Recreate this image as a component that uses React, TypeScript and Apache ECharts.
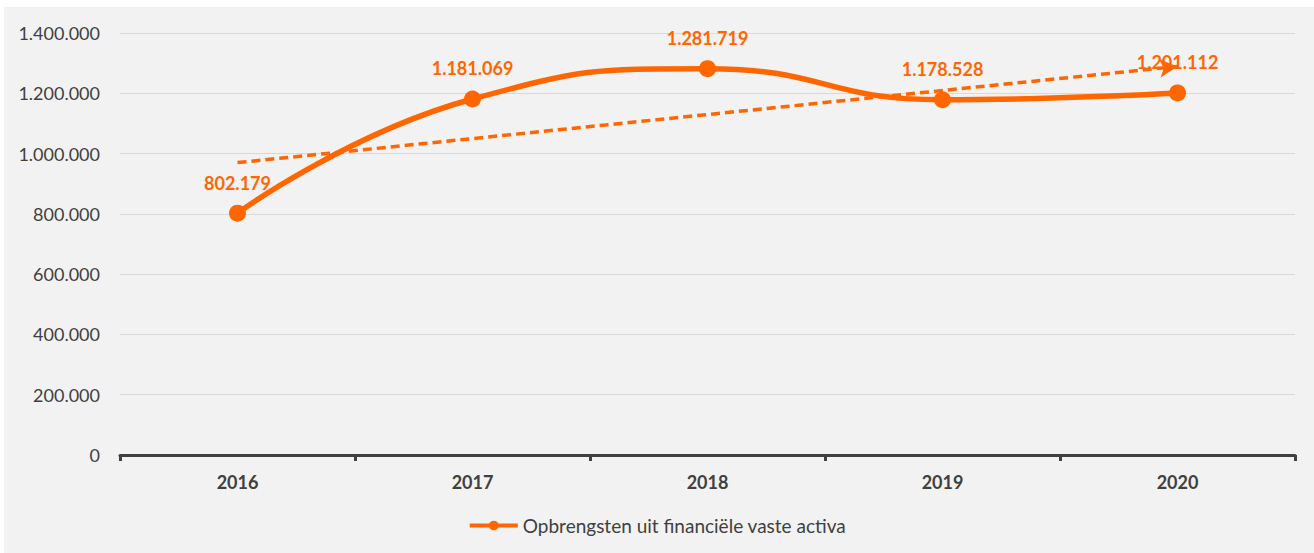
import React, { useEffect, useRef } from "react";
import * as echarts from "echarts";

const categories = ["2016", "2017", "2018", "2019", "2020"];
const values = [802179, 1181069, 1281719, 1178528, 1201112];
const trendEnds = [970000, 1289000];
const yTicks = { min: 0, max: 1400000, interval: 200000 };
const seriesName = "Opbrengsten uit financiële vaste activa";

const ORANGE = "#FF6600";
const TEXT = "#404040";
const FONT = "Lato, 'Noto Sans', sans-serif";

function fmt(v: number): string {
  return String(Math.round(v)).replace(/\B(?=(\d{3})+(?!\d))/g, ".");
}

export default function App() {
  const ref = useRef<HTMLDivElement>(null);
  useEffect(() => {
    if (!ref.current) return;
    const chart = echarts.init(ref.current, undefined, { renderer: "svg" });
    chart.setOption({
      animation: false,
      backgroundColor: "#ffffff",
      textStyle: { fontFamily: FONT },
      graphic: [
        {
          type: "rect",
          z: -10,
          silent: true,
          shape: { x: 4, y: 7, width: 1310, height: 546 },
          style: { fill: "#F2F2F2" },
        },
      ],
      grid: { left: 120, right: 19, top: 33, bottom: 98, containLabel: false },
      xAxis: {
        type: "category",
        data: categories,
        boundaryGap: true,
        axisLine: { show: true, lineStyle: { color: TEXT, width: 3 } },
        axisTick: { show: true, length: 6, lineStyle: { color: TEXT, width: 3 } },
        axisLabel: {
          color: TEXT,
          fontFamily: FONT,
          fontSize: 18,
          fontWeight: "bold",
          margin: 18,
        },
      },
      yAxis: {
        type: "value",
        min: yTicks.min,
        max: yTicks.max,
        interval: yTicks.interval,
        axisLine: { show: false },
        axisTick: { show: false },
        splitLine: { lineStyle: { color: "#D9D9D9", width: 1 } },
        axisLabel: {
          color: TEXT,
          fontFamily: FONT,
          fontSize: 18,
          margin: 20,
          formatter: (v: number) => fmt(v),
        },
      },
      legend: {
        show: true,
        bottom: 13,
        left: "center",
        itemWidth: 48,
        itemHeight: 12,
        itemGap: 10,
        lineStyle: { width: 4 },
        textStyle: { color: TEXT, fontFamily: FONT, fontSize: 19 },
        data: [seriesName],
      },
      series: [
        {
          name: seriesName,
          type: "line",
          data: values,
          smooth: 0.5,
          symbol: "circle",
          symbolSize: 17,
          itemStyle: { color: ORANGE },
          lineStyle: { color: ORANGE, width: 5.5 },
          label: {
            show: true,
            position: "top",
            distance: 13,
            color: ORANGE,
            fontFamily: FONT,
            fontSize: 18,
            fontWeight: "bold",
            formatter: (p: any) => fmt(p.value),
          },
          z: 3,
          markLine: {
            silent: true,
            symbol: ["none", "arrow"],
            symbolSize: [14, 18],
            label: { show: false },
            lineStyle: { color: ORANGE, width: 3.5, type: [9, 5] },
            data: [
              [
                { coord: [categories[0], trendEnds[0]] },
                { coord: [categories[categories.length - 1], trendEnds[1]] },
              ],
            ],
            z: 4,
          },
        },
      ],
    });
    return () => chart.dispose();
  }, []);
  return (
    <div
      ref={ref}
      style={{ position: "absolute", left: 0, top: 0, width: 1314, height: 553 }}
    />
  );
}
